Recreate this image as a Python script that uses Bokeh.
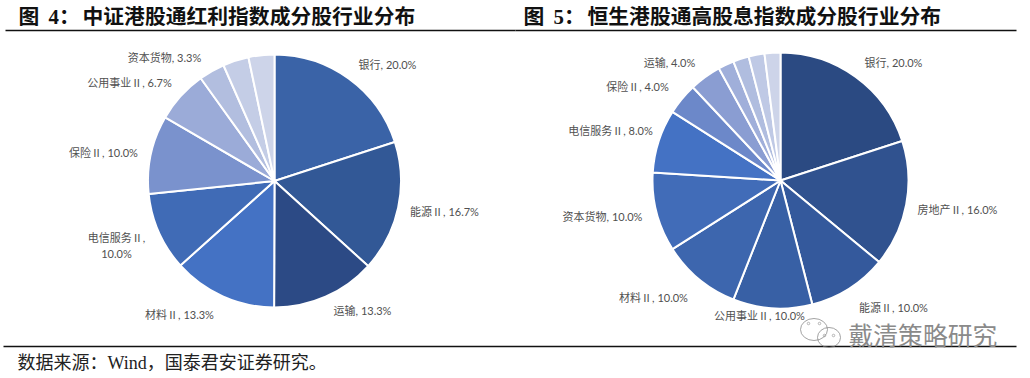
import numpy as np
from bokeh.plotting import figure
from bokeh.embed import file_html
from bokeh.resources import INLINE
from bokeh.core.properties import value

# ---- data ----
left_values = [20.0, 16.7, 13.3, 13.3, 10.0, 10.0, 6.7, 3.3, 3.3, 3.3]
left_colors = ["#3A63A7", "#325896", "#2C4A85", "#4472C4", "#406BB6", "#7A92CD",
               "#9BABD8", "#B2BEDF", "#C4CDE6", "#CDD4E9"]
left_labels = ["银行, 20.0%", "能源Ⅱ, 16.7%", "运输, 13.3%", "材料Ⅱ, 13.3%", "电信服务Ⅱ,", "10.0%",
               "保险Ⅱ, 10.0%", "公用事业Ⅱ, 6.7%", "资本货物, 3.3%"]
left_lx = [387, 444, 362, 179, 116, 116, 103, 129, 164]
left_ly = [64, 211, 310, 314, 237, 253, 152, 82, 57]

right_values = [20.0, 16.0, 10.0, 10.0, 10.0, 10.0, 8.0, 4.0, 4.0, 2.0, 2.0, 2.0, 2.0]
right_colors = ["#2B4A82", "#30528F", "#34599C", "#3860A5", "#3D66AE", "#416CB8", "#4472C4",
                "#6C88C9", "#8A9DD2", "#A0AFDA", "#B0BDDF", "#BFC9E5", "#CDD4E9"]
right_labels = ["银行, 20.0%", "房地产Ⅱ, 16.0%", "能源Ⅱ, 10.0%", "公用事业Ⅱ, 10.0%", "材料Ⅱ, 10.0%",
                "资本货物, 10.0%", "电信服务Ⅱ, 8.0%", "保险Ⅱ, 4.0%", "运输, 4.0%"]
right_lx = [893, 957, 893, 759, 653, 602, 610, 637, 669]
right_ly = [62, 209, 307, 315, 297, 216, 130, 86, 62]

CJK = "Noto Sans CJK SC"
W, H = 1030, 378
p = figure(width=W, height=H, x_range=(0, W), y_range=(H, 0),
           output_backend="svg", toolbar_location=None, min_border=0)
p.axis.visible = False
p.grid.visible = False
p.outline_line_color = None
p.background_fill_color = "white"


def pie(vals, cols, cx, cy, r):
    frac = np.array(vals) / sum(vals)
    ends = np.cumsum(frac)
    starts = ends - frac
    top = np.pi / 2
    p.wedge(x=cx, y=cy, radius=r,
            start_angle=top - 2 * np.pi * starts, end_angle=top - 2 * np.pi * ends,
            direction="clock", fill_color=cols, line_color="white", line_width=2)


pie(left_values, left_colors, 274, 180.5, 126.5)
pie(right_values, right_colors, 780, 180, 128)

label_font = value(f"Lato, {CJK}")
p.text(x=left_lx, y=left_ly, text=left_labels, text_font=label_font, text_font_size="11px",
       text_color="#505050", text_align="center", text_baseline="middle")
p.text(x=right_lx, y=right_ly, text=right_labels, text_font=label_font, text_font_size="11px",
       text_color="#505050", text_align="center", text_baseline="middle")

# titles
title_font = value(f"Liberation Serif, {CJK}")
for x, t in [(18, "图"), (48, "4："), (82, "中证港股通红利指数成分股行业分布"),
             (523, "图"), (553, "5："), (587, "恒生港股通高股息指数成分股行业分布")]:
    p.text(x=[x], y=[15.5], text=[t], text_font=title_font, text_font_size="20.8px", text_font_style="bold",
           text_color="#111111", text_align="left", text_baseline="middle")

# rules
p.segment(x0=[5, 515], y0=[30, 30], x1=[515, 1016], y1=[30, 30], line_color="#111111", line_width=1.3)
p.segment(x0=[3], y0=[346], x1=[1016], y1=[346], line_color="#111111", line_width=1.3)

# source
p.text(x=[17], y=[362], text=["数据来源：Wind，国泰君安证券研究。"],
       text_font=title_font, text_font_size="18px", text_color="#222222",
       text_align="left", text_baseline="middle")

# watermark
p.text(x=[848], y=[333], text=["戴清策略研究"], text_font=value(CJK), text_font_size="24.8px",
       text_color="#8a8a8a", text_align="left", text_baseline="middle")
p.ellipse(x=[813.5, 828.5], y=[329, 337], width=[27, 23], height=[22, 20],
          fill_color=None, line_color="#8a8a8a", line_width=0.8)
p.scatter(x=[808, 819, 824, 833], y=[323, 323, 335, 335], size=2.5, marker="circle",
          fill_color=None, line_color="#8a8a8a", line_width=0.6)

open("out.html", "w").write(file_html(p, INLINE))
